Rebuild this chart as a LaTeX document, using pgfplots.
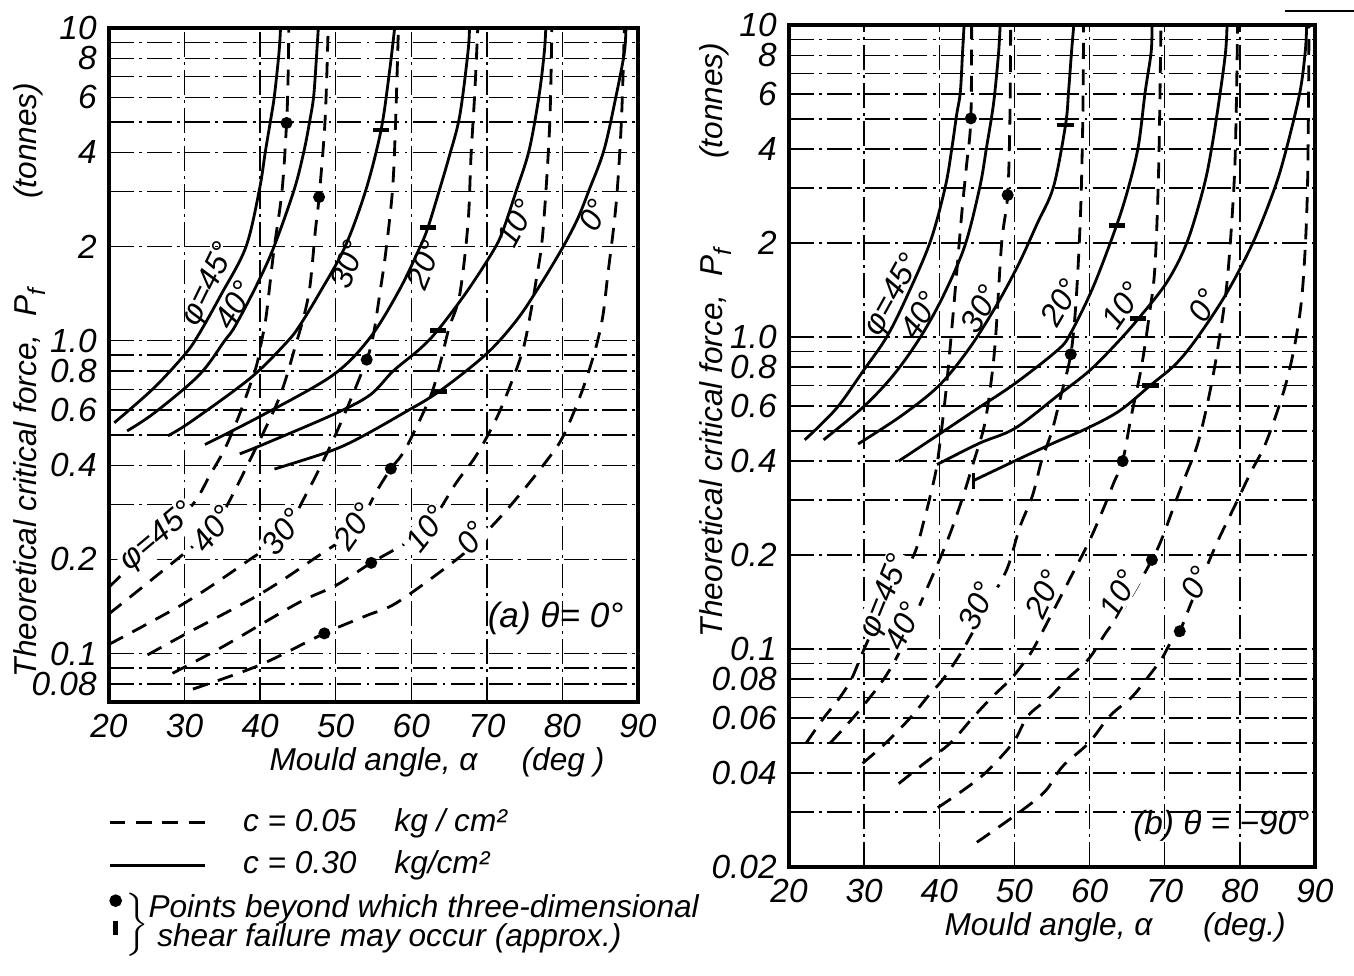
\documentclass[border=0pt]{standalone}
\usepackage{fontspec}
\setmainfont{Liberation Sans}
\usepackage{pgfplots}
\pgfplotsset{compat=1.18}

\tikzset{
  solc/.style={black, line width=0.8pt, smooth, tension=0.55},
  dashc/.style={black, line width=0.8pt, smooth, tension=0.55, dash pattern=on 4.5pt off 3pt},
  lab/.style={font=\itshape\fontsize{9}{10}\selectfont, inner sep=0.5pt},
  dlab/.style={lab, fill=white},
  gridl/.style={black, line width=0.4pt, dash pattern=on 7pt off 1.5pt on 0.8pt off 1.5pt},
}
\pgfplotsset{
  longleg/.style={legend image code/.code={\draw[##1] (0cm,0cm) -- (0.95cm,0cm);}},
}

\begin{document}
\begin{tikzpicture}[font=\itshape\fontsize{9}{10}\selectfont]
\useasboundingbox (0,0) rectangle (13.54cm,9.75cm);
% cut-off figure reference underline, top right
\draw[line width=0.8pt] (12.85cm,9.64cm) -- (13.54cm,9.64cm);

% ---------------- (a) theta = 0 ----------------
\begin{axis}[
  scale only axis, xmin=20, xmax=90, ymode=log, ymax=10, ymin=0.07,
  at={(1.09cm,2.73cm)}, anchor=south west, width=5.29cm, height=6.74cm,
  xtick={20,30,...,90},
  ytick={0.08,0.1,0.2,0.4,0.6,0.8,1,2,4,6,8,10},
  yticklabels={0.08,0.1,0.2,0.4,0.6,0.8,1.0,2,4,6,8,10},
  minor ytick={0.09,0.3,0.5,0.7,0.9,3,5,7,9},
  major tick length=0pt, minor tick length=0pt,
  xmajorgrids, ymajorgrids, yminorgrids,
  grid style={gridl},
  axis line style={line width=0.9pt},
  tick label style={font=\itshape\fontsize{9.5}{10}\selectfont},
  label style={font=\itshape\fontsize{9}{10}\selectfont},
  xlabel={Mould angle, α\hspace{1.4em}(deg )},
  xlabel style={at={(ticklabel cs:0.62)}, yshift=0.15cm},
  ylabel={Theoretical critical force, \ P\raisebox{-0.5ex}{\scriptsize f}\hspace{0.9cm}(tonnes)},
  ylabel style={at={(axis description cs:-0.15,0.478)}, anchor=center},
  legend cell align=left,
  legend style={draw=none, fill=none, at={(0,0)}, anchor=north west,
    xshift=-0.12cm, yshift=-0.92cm, row sep=0pt,
    font=\itshape\fontsize{9}{10}\selectfont},
  /pgf/number format/assume math mode=true,
]
\addlegendimage{black, line width=0.8pt, dash pattern=on 4.5pt off 3pt, longleg}
\addlegendentry{\hspace{0.3cm}c = 0.05\hspace{1.2em}kg / cm²}
\addlegendimage{black, line width=0.8pt, longleg}
\addlegendentry{\hspace{0.3cm}c = 0.30\hspace{1.2em}kg/cm²}
\addlegendimage{legend image code/.code={\fill (0.06cm,0.15cm) circle (1.6pt); \draw[line width=1.3pt] (0.06cm,-0.05cm) -- (0.06cm,-0.19cm);}}
\addlegendentry{\hspace*{-0.88cm}$\left\}\begin{tabular}{@{}l@{}}Points beyond which three-dimensional\\[-2pt]\ shear failure may occur (approx.)\end{tabular}\right.$}

% c = 0.30 (solid)
\addplot[solc] coordinates {(20.7,0.547)(25.9,0.705)(30.1,0.908)(32,1.06)(34.8,1.40)(38.1,1.99)(39.9,3.04)(40.7,4.04)(41.4,5.1)(41.9,6.1)(42.5,8.36)(42.7,10)};
\addplot[solc] coordinates {(22.4,0.515)(26.0,0.588)(31.9,0.776)(35.3,1.0)(36.7,1.115)(39.5,1.5)(41.8,1.99)(44.5,3.04)(45.8,4.04)(46.6,5.1)(47.1,6.1)(47.5,8.4)(47.7,10)};
\addplot[solc] coordinates {(27.8,0.497)(30.3,0.54)(36.4,0.688)(39.9,0.805)(43.7,1.0)(45.2,1.115)(47.7,1.40)(51.2,1.99)(54.0,3.04)(56.0,4.72)(57.1,7.2)(57.8,10)};
\addplot[solc] coordinates {(32.7,0.466)(40.4,0.58)(49.6,0.776)(54.5,1.02)(58.4,1.45)(61.1,1.98)(62.2,2.30)(63.7,3.02)(65.0,3.87)(66.4,5.22)(67.5,8.36)(67.7,10)};
\addplot[solc] coordinates {(37.3,0.435)(40.4,0.466)(49.6,0.58)(54.5,0.67)(57.6,0.8)(61.1,0.94)(63.5,1.08)(67.3,1.43)(70.8,1.93)(72.1,2.24)(73.9,3.02)(75.6,4.07)(76.9,6.06)(77.6,8.36)(77.8,10)};
\addplot[solc] coordinates {(41.9,0.389)(49.2,0.443)(53.2,0.49)(58.9,0.586)(63.7,0.689)(69.9,0.906)(73.9,1.16)(77,1.5)(80,1.98)(82,2.45)(83.5,3.02)(85.5,4.07)(87.1,6.06)(88.2,8.36)(88.4,10)};

% c = 0.05 (dashed)
\addplot[dashc] coordinates {(20,0.163)(26.5,0.233)(31.1,0.30)(33.3,0.37)(35.3,0.45)(37,0.56)(38.2,0.67)(39.5,0.83)(40.2,1.0)(40.8,1.2)(41.8,1.93)(42.9,3.02)(43.5,4.97)(43.7,7)(43.8,10)};
\addplot[dashc] coordinates {(20,0.134)(26,0.175)(33.7,0.25)(35.7,0.30)(38.2,0.395)(41.7,0.59)(43.2,0.73)(44.6,0.95)(45.8,1.2)(46.6,1.5)(47.3,2.24)(47.8,2.88)(48.6,5.1)(49.0,10)};
\addplot[dashc] coordinates {(20,0.107)(30,0.145)(38,0.195)(43,0.24)(46,0.32)(48.5,0.42)(51,0.57)(54.1,0.87)(55.0,1.05)(55.9,1.45)(56.6,1.9)(57.5,3.0)(57.9,4.8)(58.3,10)};
\addplot[dashc] coordinates {(25.1,0.099)(30,0.115)(40,0.155)(47,0.2)(52.5,0.25)(55.4,0.33)(57.3,0.39)(58.7,0.43)(60,0.49)(62.6,0.67)(63.9,0.86)(65.0,1.1)(66.4,1.40)(67.5,2.36)(67.9,3.87)(68.4,6.2)(68.8,10)};
\addplot[dashc] coordinates {(28.4,0.0865)(35,0.105)(45,0.145)(50,0.165)(54.7,0.195)(58.5,0.22)(62,0.25)(65.9,0.35)(68.6,0.43)(71.2,0.56)(73.2,0.73)(74.8,0.94)(75.8,1.23)(76.5,1.55)(77.4,2.2)(78.3,4.8)(78.6,10)};
\addplot[dashc] coordinates {(31.1,0.077)(40,0.092)(48.5,0.116)(54,0.132)(58,0.145)(64.8,0.19)(68,0.22)(71.6,0.27)(74.7,0.33)(77.8,0.41)(80,0.49)(82.4,0.67)(84.2,0.91)(85.3,1.18)(86.0,1.62)(87.1,2.73)(87.8,5)(88.2,10)};

% limit points
\addplot[only marks, mark=*, mark size=1.5pt, black] coordinates {(43.5,4.97)(47.8,2.88)(54.1,0.87)(57.3,0.39)(54.7,0.195)(48.5,0.116)};
\addplot[only marks, mark=-, mark size=2.3pt, black, mark options={line width=1.3pt}] coordinates {(56.0,4.72)(62.2,2.30)(63.5,1.08)(63.7,0.689)};

\node[lab, rotate=64] at (axis cs:33.3,1.51) {φ=45°};
\node[lab, rotate=60] at (axis cs:36.6,1.30) {40°};
\node[lab, rotate=70] at (axis cs:51.6,1.75) {30°};
\node[lab, rotate=68] at (axis cs:61.7,1.75) {20°};
\node[lab, rotate=62] at (axis cs:73.9,2.37) {10°};
\node[lab, rotate=62] at (axis cs:84.2,2.52) {0°};

\node[dlab, rotate=40] at (axis cs:26.5,0.235) {φ=45°};
\node[dlab, rotate=52] at (axis cs:33.7,0.25) {40°};
\node[dlab, rotate=52] at (axis cs:43,0.245) {30°};
\node[dlab, rotate=55] at (axis cs:52.5,0.255) {20°};
\node[dlab, rotate=52] at (axis cs:62,0.25) {10°};
\node[dlab, rotate=52] at (axis cs:68,0.235) {0°};

\node[lab, font=\itshape\fontsize{10}{11}\selectfont] at (axis cs:79.1,0.13) {(a) θ= 0°};
\end{axis}

% ---------------- (b) theta = -90 ----------------
\begin{axis}[
  scale only axis, xmin=20, xmax=90, ymode=log, ymax=10, ymin=0.02,
  at={(7.89cm,1.08cm)}, anchor=south west, width=5.26cm, height=8.42cm,
  xtick={20,30,...,90},
  ytick={0.02,0.04,0.06,0.08,0.1,0.2,0.4,0.6,0.8,1,2,4,6,8,10},
  yticklabels={0.02,0.04,0.06,0.08,0.1,0.2,0.4,0.6,0.8,1.0,2,4,6,8,10},
  minor ytick={0.03,0.05,0.07,0.09,0.3,0.5,0.7,0.9,3,5,7,9},
  major tick length=0pt, minor tick length=0pt,
  xmajorgrids, ymajorgrids, yminorgrids,
  grid style={gridl},
  axis line style={line width=0.9pt},
  tick label style={font=\itshape\fontsize{9.5}{10}\selectfont},
  label style={font=\itshape\fontsize{9}{10}\selectfont},
  xlabel={Mould angle, α\hspace{1.6em}(deg.)},
  xlabel style={at={(ticklabel cs:0.62)}, yshift=0.15cm},
  ylabel={Theoretical critical force, \ P\raisebox{-0.5ex}{\scriptsize f}\hspace{0.9cm}(tonnes)},
  ylabel style={at={(axis description cs:-0.14,0.626)}, anchor=center},
  /pgf/number format/assume math mode=true,
]
% c = 0.30 (solid)
\addplot[solc] coordinates {(22.1,0.468)(26.3,0.59)(29.9,0.78)(33.0,1.0)(35.7,1.35)(38.8,2.02)(40.8,3.03)(41.7,4.07)(42.3,5.14)(42.8,6.1)(43.1,8.2)(43.3,10)};
\addplot[solc] coordinates {(24.6,0.468)(30,0.60)(34,0.76)(37.5,1.0)(40.5,1.35)(43.4,1.96)(45.4,3.03)(46.3,4.07)(47.0,5.14)(47.4,6.1)(47.9,8.2)(48.1,10)};
\addplot[solc] coordinates {(29.2,0.454)(35,0.56)(40,0.70)(44,0.92)(47.5,1.25)(50.5,1.7)(53,2.3)(55.2,3.03)(56.8,4.78)(57.2,6.1)(57.6,8.2)(57.9,10)};
\addplot[solc] coordinates {(34.6,0.40)(40.1,0.49)(45.1,0.59)(50.1,0.71)(55.8,0.91)(57.5,1.03)(60.5,1.45)(63.6,2.28)(65.2,3.03)(66.5,4.1)(67.4,6.1)(68.2,8.2)(68.3,10)};
\addplot[solc] coordinates {(39.7,0.39)(45.3,0.456)(50.1,0.51)(55.8,0.65)(60,0.78)(63.7,0.96)(66.5,1.145)(70.3,1.5)(73.0,2.02)(75.2,3.03)(76.3,4.1)(77.4,6.1)(78.1,8.2)(78.3,10)};
\addplot[solc] coordinates {(44.5,0.346)(50,0.40)(55.1,0.456)(59.7,0.51)(64,0.58)(68.1,0.70)(71.5,0.82)(74.4,1.0)(78.3,1.39)(81.8,2.02)(84.7,3.03)(86.3,4.1)(88.0,6.1)(88.7,8.2)(88.9,10)};

% c = 0.05 (dashed)
\addplot[dashc] coordinates {(22.3,0.05)(24.6,0.06)(26.6,0.069)(28.3,0.08)(30.0,0.10)(32.5,0.135)(35,0.17)(36.8,0.205)(38,0.26)(38.8,0.31)(39.7,0.39)(40.6,0.58)(41.2,0.80)(42.0,1.31)(43.0,2.5)(43.6,3.5)(44.2,5.0)(44.3,10)};
\addplot[dashc] coordinates {(25.5,0.05)(29,0.062)(32.6,0.08)(34.9,0.10)(37.5,0.14)(40.9,0.217)(43,0.30)(44.6,0.40)(46.0,0.52)(46.9,0.72)(47.5,1.0)(48.3,2.0)(49.1,2.85)(49.4,5)(49.5,10)};
\addplot[dashc] coordinates {(29.8,0.043)(32.9,0.05)(36.1,0.06)(38.6,0.071)(40.5,0.08)(43.2,0.10)(46.5,0.14)(49,0.18)(50.7,0.245)(52.4,0.31)(53.6,0.40)(55,0.50)(56.2,0.65)(57.5,0.88)(58.2,1.3)(58.8,2.5)(59.1,5)(59.2,10)};
\addplot[dashc] coordinates {(34.6,0.037)(38,0.043)(41.5,0.05)(44.4,0.06)(47,0.07)(49.5,0.08)(51.2,0.09)(52.5,0.10)(55,0.13)(57.5,0.17)(59.9,0.22)(61.8,0.28)(63.2,0.34)(64.4,0.40)(65.5,0.55)(66.9,0.80)(68.0,1.2)(68.7,1.68)(69.2,3.5)(69.5,10)};
\addplot[dashc] coordinates {(39.8,0.031)(43,0.035)(46.1,0.04)(49.8,0.05)(51.8,0.061)(54.7,0.07)(57,0.08)(59.9,0.093)(62.2,0.113)(65,0.14)(68.3,0.193)(69.7,0.228)(71.3,0.29)(72.8,0.36)(74.4,0.455)(75.8,0.63)(77.0,0.9)(78.3,1.5)(79.2,3)(79.5,5)(79.7,10)};
\addplot[dashc] coordinates {(45.0,0.024)(50.7,0.03)(54.1,0.035)(56.4,0.042)(59.9,0.05)(62.7,0.061)(65.6,0.07)(67.9,0.082)(69.6,0.093)(70.8,0.105)(72,0.114)(73.5,0.14)(75,0.17)(77,0.22)(79.4,0.29)(81.5,0.37)(83.5,0.46)(86.0,0.69)(87.5,1.0)(88.4,1.48)(89.0,3)(89.2,10)};

% limit points
\addplot[only marks, mark=*, mark size=1.5pt, black] coordinates {(44.2,5.02)(49.1,2.85)(57.5,0.88)(64.4,0.40)(68.3,0.193)(72.0,0.114)};
\addplot[only marks, mark=-, mark size=2.3pt, black, mark options={line width=1.3pt}] coordinates {(56.8,4.78)(63.6,2.28)(66.5,1.145)(68.1,0.70)};
\addplot[only marks, mark=|, mark size=2.3pt, black, mark options={line width=0.8pt}] coordinates {(44.5,0.346)};

\node[lab, rotate=61] at (axis cs:33.9,1.36) {φ=45°};
\node[lab, rotate=58] at (axis cs:37.4,1.17) {40°};
\node[lab, rotate=60] at (axis cs:45.4,1.23) {30°};
\node[lab, rotate=60] at (axis cs:56.1,1.29) {20°};
\node[lab, rotate=55] at (axis cs:64.3,1.26) {10°};
\node[lab, rotate=60] at (axis cs:75.2,1.26) {0°};

\node[dlab, rotate=68] at (axis cs:32.9,0.147) {φ=45°};
\node[dlab, rotate=65] at (axis cs:35.2,0.118) {40°};
\node[dlab, rotate=65] at (axis cs:45.0,0.137) {30°};
\node[dlab, rotate=65] at (axis cs:53.9,0.15) {20°};
\node[dlab, rotate=60] at (axis cs:63.9,0.15) {10°};
\node[dlab, rotate=62] at (axis cs:74.2,0.163) {0°};

\node[lab, anchor=east, font=\itshape\fontsize{9.5}{10}\selectfont] at (axis cs:89.6,0.027) {(b) θ = −90°};
\end{axis}
\end{tikzpicture}
\end{document}
